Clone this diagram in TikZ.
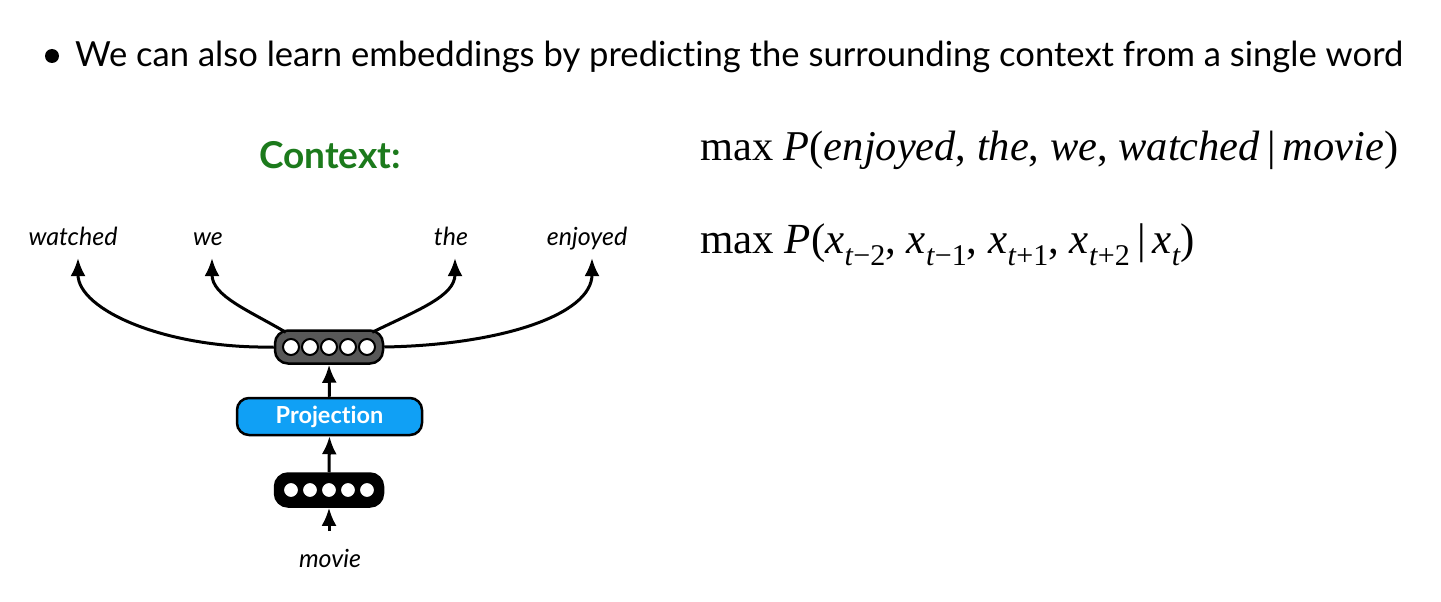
\documentclass[tikz,border=0pt]{standalone}
\usepackage{fontspec}
\setmainfont{Lato}[Ligatures={NoCommon}]
\newfontfamily\tms{Liberation Serif}
\usetikzlibrary{arrows.meta}
\definecolor{ctxgreen}{RGB}{28,122,28}
\definecolor{projblue}{RGB}{16,160,245}
\definecolor{vecgrey}{RGB}{88,88,88}
\newcommand\mysub[1]{\raisebox{-0.3em}{\fontsize{28}{30}\selectfont #1}}
\begin{document}
\begin{tikzpicture}[x=1pt,y=-1pt,
 arr/.style={line width=3pt,-{Latex[length=18pt,width=15pt]}},
 vec/.style={draw=black,line width=2.5pt,rounded corners=13pt,minimum width=108pt,minimum height=33pt,inner sep=0},
 dot/.style={circle,draw=black,fill=white,line width=2pt,minimum size=16pt,inner sep=0},
 word/.style={font=\fontsize{25}{28}\selectfont\itshape,inner sep=0,anchor=base}]
\useasboundingbox[fill=white] (0,0) rectangle (1441,602);
% bullet line
\node[circle,fill=black,minimum size=14pt,inner sep=0] (bullet) at (52,56) {};
\node[anchor=base west,inner sep=0] (title) at (75,67) {\resizebox{1328pt}{!}{\fontsize{30}{34}\selectfont We can also learn embeddings by predicting the surrounding context from a single word}};
% context header
\node[font=\fontsize{37}{40}\selectfont\bfseries,text=ctxgreen,anchor=base,inner sep=0] (ctx) at (330,168) {Context:};
% words
\node[word] (watched) at (73,245) {watched};
\node[word] (we) at (208,245) {we};
\node[word] (the) at (451,245) {the};
\node[word] (enjoyed) at (587,245) {enjoyed};
\node[word] (movie) at (330,567) {movie};
% vectors and projection
\node[vec,fill=vecgrey] (top) at (329,347) {};
\foreach \n/\x in {1/291,2/310,3/329,4/348,5/367}
  \node[dot] (td\n) at (\x,347) {};
\node[draw=black,line width=2.5pt,fill=projblue,rounded corners=12pt,minimum width=185pt,minimum height=37pt,inner sep=0,text=white,font=\fontsize{23.5}{26}\selectfont\bfseries] (proj) at (329.5,416.5) {Projection};
\node[vec,fill=black] (bot) at (329,490) {};
\foreach \n/\x in {1/291,2/310,3/329,4/348,5/367}
  \node[dot] (bd\n) at (\x,490) {};
\coordinate (in) at (329,531);
\draw[arr] (in) -- (bot.south);
\draw[arr] (bot.north) -- (proj.south);
\draw[arr] (proj.north) -- (top.south);
% context curves
\draw[arr] (top.west) .. controls (166,349) and (78,310) .. ([xshift=5pt,yshift=-13pt]watched.base);
\draw[arr] (top.north west) ++(12,3) .. controls (248,310) and (212,296) .. ([xshift=4pt,yshift=-13pt]we.base);
\draw[arr] (top.north east) ++(-12,3) .. controls (418,310) and (455,296) .. ([xshift=4pt,yshift=-13pt]the.base);
\draw[arr] (top.east) .. controls (500,345) and (592,315) .. ([xshift=5pt,yshift=-13pt]enjoyed.base);
% equations
\node[anchor=base west,inner sep=0] (eq1) at (700,160) {\resizebox{698pt}{!}{\tms\fontsize{40}{44}\selectfont max \textit{P}(\textit{enjoyed}, \textit{the}, \textit{we}, \textit{watched}\,|\,\textit{movie})}};
\node[anchor=base west,inner sep=0] (eq2) at (700,253) {\resizebox{495pt}{!}{\tms\fontsize{40}{44}\selectfont max \textit{P}(\textit{x}\mysub{\textit{t}−2}, \textit{x}\mysub{\textit{t}−1}, \textit{x}\mysub{\textit{t}+1}, \textit{x}\mysub{\textit{t}+2}\,|\,\textit{x}\mysub{\textit{t}})}};
\end{tikzpicture}
\end{document}
